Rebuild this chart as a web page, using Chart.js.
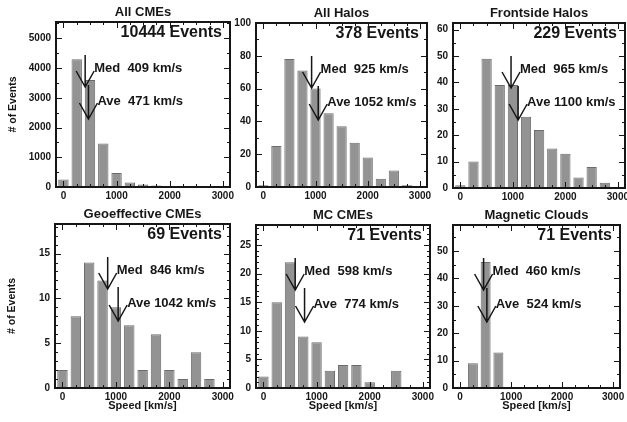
<!DOCTYPE html>
<html>
<head>
<meta charset="utf-8">
<script src="https://cdn.jsdelivr.net/npm/chart.js@4.4.0/dist/chart.umd.min.js"></script>
<style>
  html, body { margin: 0; padding: 0; background: #fff; }
  body { width: 627px; height: 422px; position: relative; overflow: hidden; }
  canvas { position: absolute; }
</style>
</head>
<body>
<script>
// histogram bins (km/s), 250 wide
const speedBins = [0, 250, 500, 750, 1000, 1250, 1500, 1750, 2000, 2250, 2500, 2750, 3000];

const titles = ['All CMEs', 'All Halos', 'Frontside Halos', 'Geoeffective CMEs', 'MC CMEs', 'Magnetic Clouds'];
const eventCounts = [10444, 378, 229, 69, 71, 71];
const medianSpeeds = [409, 925, 965, 846, 598, 460];
const averageSpeeds = [471, 1052, 1100, 1042, 774, 524];

const countsAllCMEs = [250, 4300, 3600, 1460, 470, 150, 80, 50, 35, 20, 15, 10, 4];
const countsAllHalos = [1, 25, 78, 71, 60, 45, 37, 27, 18, 5, 10, 1, 0];
const countsFrontside = [1, 10, 49, 39, 39, 27, 22, 15, 13, 4, 8, 2, 0];
const countsGeoeffective = [2, 8, 14, 12, 9, 7, 2, 6, 2, 1, 4, 1, 0];
const countsMcCMEs = [2, 15, 22, 9, 8, 3, 4, 4, 1, 0, 3, 0, 0];
const countsMagClouds = [0, 9, 46, 13, 0, 0, 0, 0, 0, 0, 0, 0, 0];

const speedTicks = [0, 1000, 2000, 3000];
const eventTicksAllCMEs = [0, 1000, 2000, 3000, 4000, 5000];
const eventTicksAllHalos = [0, 20, 40, 60, 80, 100];
const eventTicksFrontside = [0, 10, 20, 30, 40, 50, 60];
const eventTicksGeo = [0, 5, 10, 15];
const eventTicksMc = [0, 5, 10, 15, 20, 25];
const eventTicksClouds = [0, 10, 20, 30, 40, 50];

const allCounts = [countsAllCMEs, countsAllHalos, countsFrontside, countsGeoeffective, countsMcCMEs, countsMagClouds];
const allEventTicks = [eventTicksAllCMEs, eventTicksAllHalos, eventTicksFrontside, eventTicksGeo, eventTicksMc, eventTicksClouds];

// layout: plot frame of each panel in page pixels, y range, minor tick step
const boxes = [
  {l: 56, t: 22, r: 230, b: 187}, {l: 256, t: 23, r: 427, b: 187}, {l: 453, t: 23, r: 625, b: 188},
  {l: 55, t: 224, r: 230, b: 388}, {l: 256, t: 225, r: 430, b: 388}, {l: 453, t: 225, r: 620, b: 388}
];
const yMax = [5550, 100, 62.5, 18.3, 28.5, 59.5];
const yMinor = [500, 10, 5, 1, 1, 5];

const FONT = '"Liberation Sans", Arial, Helvetica, sans-serif';
const INK = '#161616';
const LEFT = 48, RIGHT = 8, TITLE_H = 22;

function arrow(ctx, px, y0, y1) {
    ctx.beginPath();
    ctx.moveTo(px, y0);
    ctx.lineTo(px, y1);
    ctx.moveTo(px - 9, y1 - 16);
    ctx.lineTo(px, y1);
    ctx.lineTo(px + 9, y1 - 16);
    ctx.stroke();
}

const framePlugin = {
    id: 'frame',
    afterDatasetsDraw(chart, args, opts) {
        const {ctx, chartArea: a, scales: {x, y}} = chart;
        ctx.save();
        ctx.strokeStyle = INK;

        // inward ticks on all four sides
        ctx.lineWidth = 1;
        ctx.beginPath();
        for (let v = 0; v <= 3000; v += 250) {
            const px = Math.round(x.getPixelForValue(v)) + 0.5;
            const len = v % 1000 === 0 ? 6 : 3;
            ctx.moveTo(px, a.bottom); ctx.lineTo(px, a.bottom - len);
            ctx.moveTo(px, a.top); ctx.lineTo(px, a.top + len);
        }
        for (let v = 0; v <= y.max; v += opts.minor) {
            const py = Math.round(y.getPixelForValue(v)) + 0.5;
            const len = v % opts.major === 0 ? 6 : 3;
            ctx.moveTo(a.left, py); ctx.lineTo(a.left + len, py);
            ctx.moveTo(a.right, py); ctx.lineTo(a.right - len, py);
        }
        ctx.stroke();

        ctx.lineWidth = 2;
        ctx.strokeRect(a.left, a.top, a.right - a.left, a.bottom - a.top);

        // median / average arrows
        ctx.lineWidth = 1.5;
        const mx = x.getPixelForValue(opts.med);
        const ax = x.getPixelForValue(opts.ave);
        arrow(ctx, mx, a.top + 33, a.top + 65);
        arrow(ctx, ax, a.top + 63, a.top + 97);

        ctx.fillStyle = INK;
        ctx.textBaseline = 'middle';
        ctx.font = 'bold 13px ' + FONT;
        ctx.textAlign = 'left';
        ctx.fillText('Med ' + String(opts.med).padStart(4, ' ') + ' km/s', mx + 9, a.top + 46);
        ctx.fillText('Ave ' + String(opts.ave).padStart(4, ' ') + ' km/s', ax + 9, a.top + 79);

        ctx.font = 'bold 16px ' + FONT;
        ctx.textAlign = 'right';
        ctx.fillText(opts.events + ' Events', a.right - 8, a.top + 11);
        ctx.restore();
    }
};

titles.forEach((title, i) => {
    const box = boxes[i];
    const bottomRow = i >= 3;
    const leftCol = i % 3 === 0;
    const xh = bottomRow ? 25 : 16;

    const canvas = document.createElement('canvas');
    canvas.width = box.r - box.l + LEFT + RIGHT;
    canvas.height = box.b - box.t + TITLE_H + xh;
    canvas.style.left = (box.l - LEFT) + 'px';
    canvas.style.top = (box.t - TITLE_H) + 'px';
    document.body.appendChild(canvas);

    const counts = allCounts[i];
    const yTicks = allEventTicks[i];

    new Chart(canvas, {
        type: 'bar',
        data: {
            datasets: [{
                data: speedBins.map((s, k) => ({x: s, y: counts[k]})),
                backgroundColor: '#939393',
                borderColor: '#6c6c6c',
                borderWidth: 1,
                barPercentage: 0.78,
                categoryPercentage: 1
            }]
        },
        options: {
            responsive: false,
            animation: false,
            layout: {padding: {left: 0, right: RIGHT, top: 0, bottom: 0}},
            plugins: {
                legend: {display: false},
                tooltip: {enabled: false},
                title: {
                    display: true,
                    text: title,
                    fullSize: false,
                    color: INK,
                    font: {family: FONT, size: 13, weight: 'bold', lineHeight: '16px'},
                    padding: {top: 4, bottom: 2}
                },
                frame: {
                    med: medianSpeeds[i],
                    ave: averageSpeeds[i],
                    events: eventCounts[i],
                    minor: yMinor[i],
                    major: yTicks[1]
                }
            },
            scales: {
                x: {
                    type: 'linear',
                    min: -140,
                    max: 3135,
                    offset: false,
                    grid: {display: false, drawTicks: false},
                    border: {display: false},
                    afterBuildTicks: s => { s.ticks = speedTicks.map(v => ({value: v})); },
                    afterFit: s => { s.height = xh; },
                    ticks: {
                        color: INK,
                        font: {family: FONT, size: 10, weight: 'bold'},
                        padding: 3,
                        maxRotation: 0,
                        autoSkip: false,
                        callback: v => String(v)
                    },
                    title: {
                        display: bottomRow,
                        text: 'Speed [km/s]',
                        color: INK,
                        font: {family: FONT, size: 11, weight: 'bold'},
                        padding: 0
                    }
                },
                y: {
                    min: 0,
                    max: yMax[i],
                    grid: {display: false, drawTicks: false},
                    border: {display: false},
                    afterBuildTicks: s => { s.ticks = yTicks.map(v => ({value: v})); },
                    afterFit: s => { s.width = LEFT; },
                    ticks: {
                        color: INK,
                        font: {family: FONT, size: 10, weight: 'bold'},
                        padding: 5,
                        autoSkip: false,
                        callback: v => String(v)
                    },
                    title: {
                        display: leftCol,
                        text: '# of Events',
                        color: INK,
                        font: {family: FONT, size: 10.5, weight: 'bold', lineHeight: 1},
                        padding: 0
                    }
                }
            }
        },
        plugins: [framePlugin]
    });
});
</script>
</body>
</html>
